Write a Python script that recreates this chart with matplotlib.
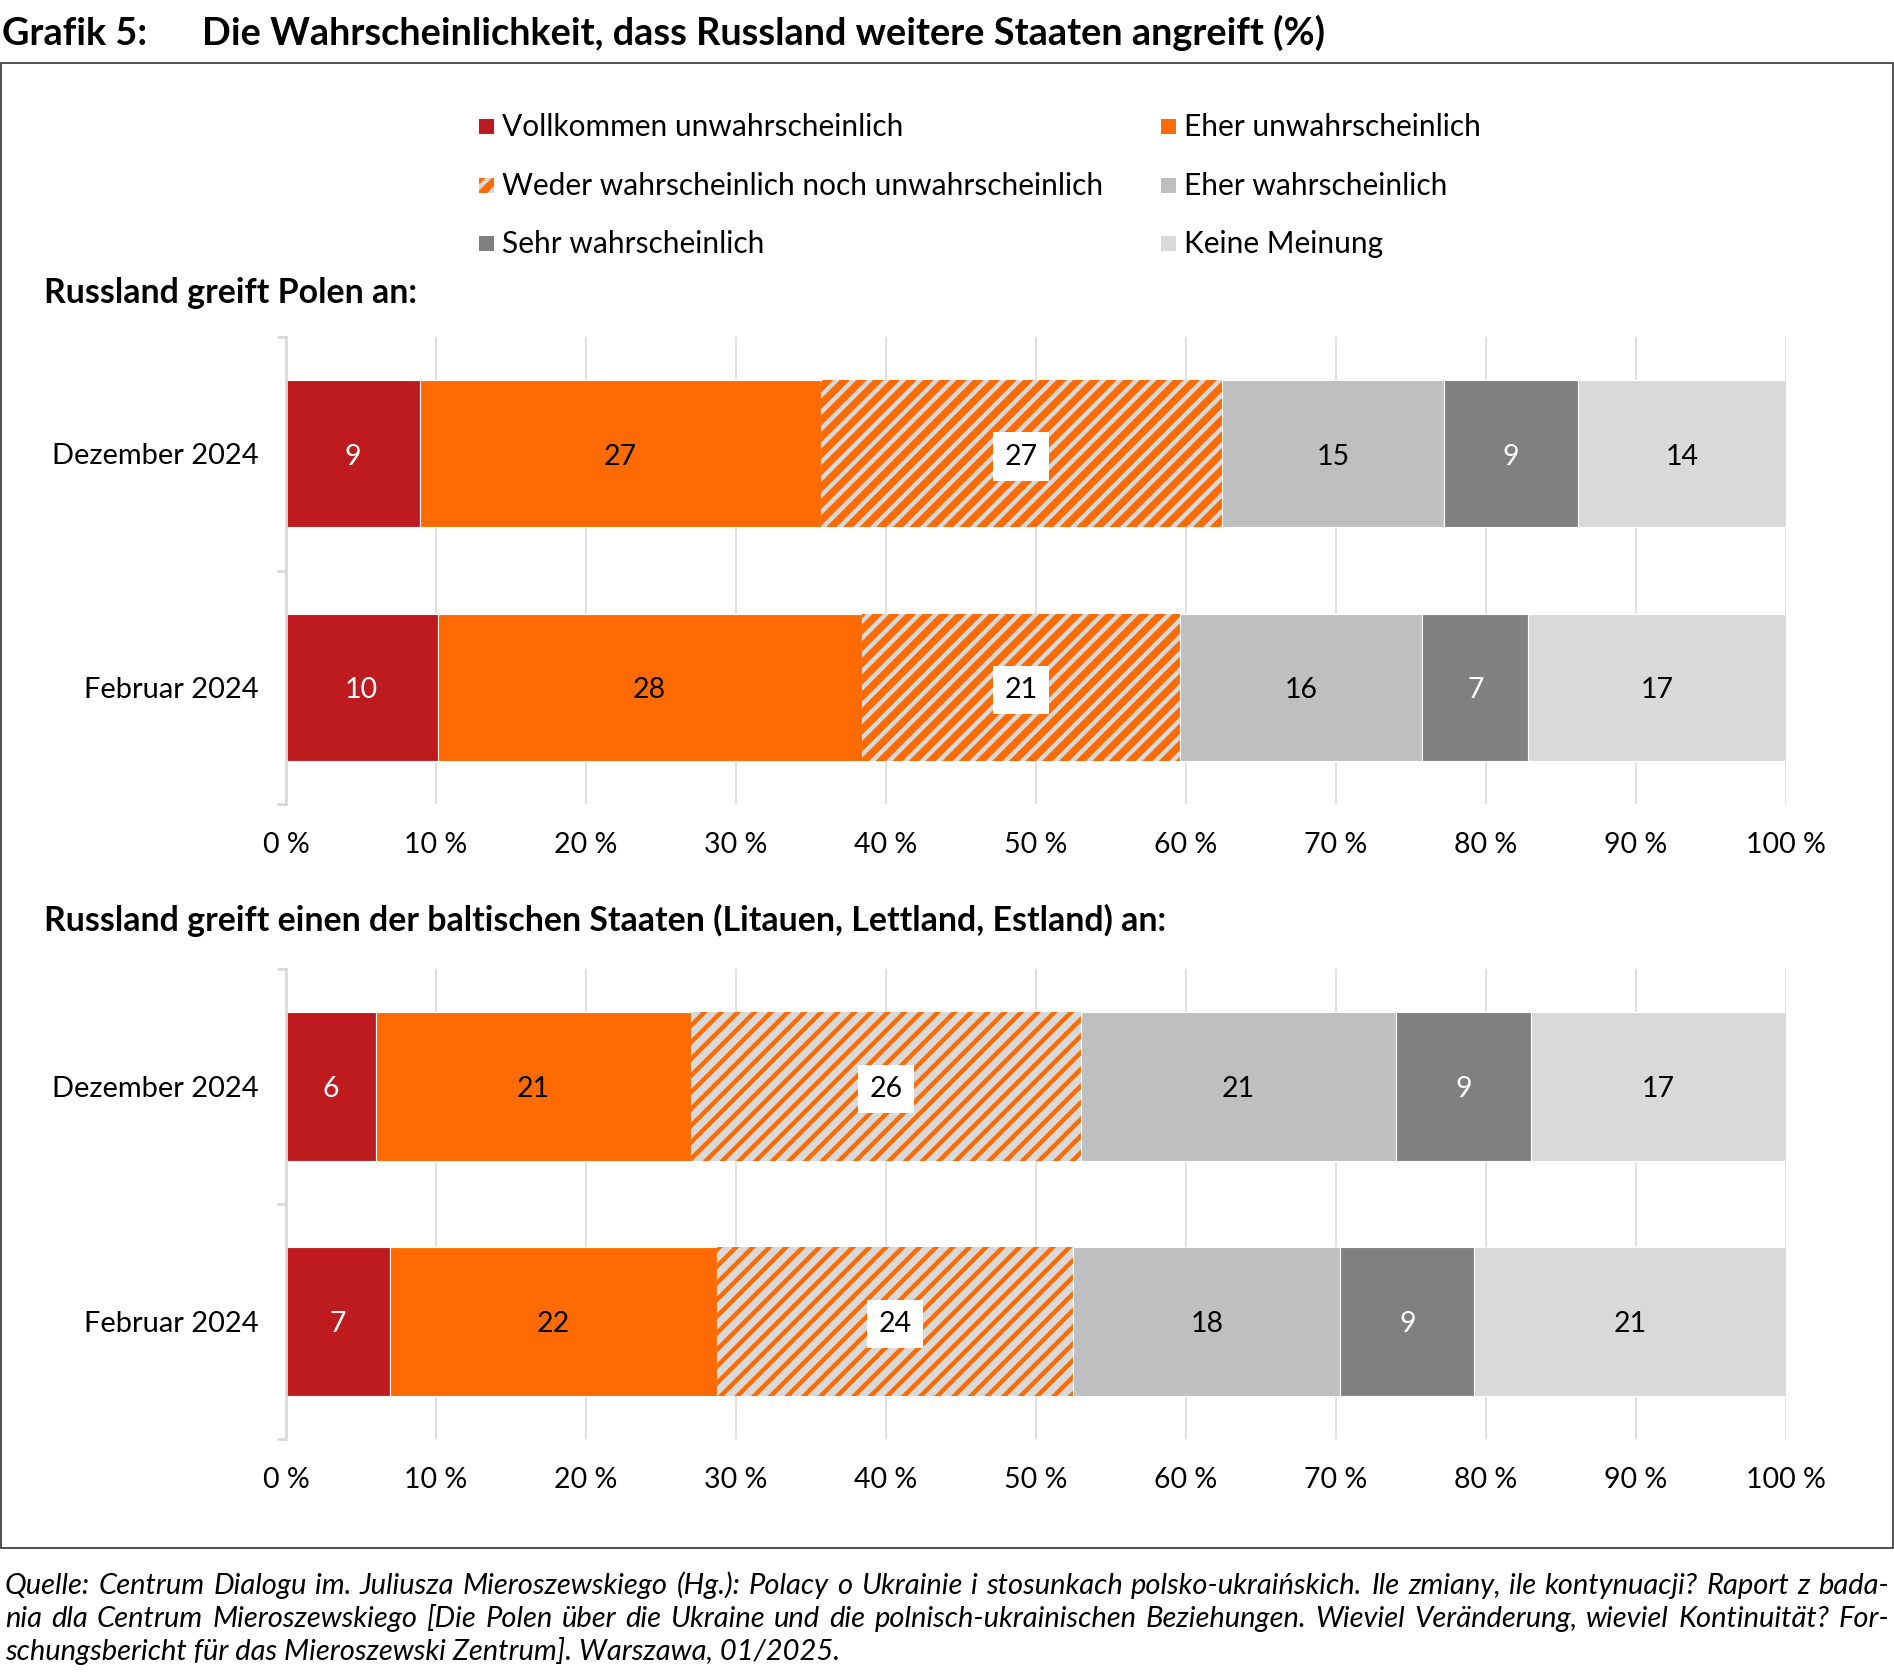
import matplotlib
matplotlib.use("Agg")
import matplotlib.pyplot as plt
from matplotlib.patches import Rectangle

plt.rcParams['font.family'] = ['Lato', 'DejaVu Sans']
plt.rcParams['hatch.linewidth'] = 3.2

W, H = 1894, 1677
DPI = 100

# ---------------- data ----------------
title_num = "Grafik 5:"
title_text = "Die Wahrscheinlichkeit, dass Russland weitere Staaten angreift (%)"
categories = ["Vollkommen unwahrscheinlich", "Eher unwahrscheinlich",
              "Weder wahrscheinlich noch unwahrscheinlich", "Eher wahrscheinlich",
              "Sehr wahrscheinlich", "Keine Meinung"]
periods = ["Dezember 2024", "Februar 2024"]
panel_titles = ["Russland greift Polen an:",
                "Russland greift einen der baltischen Staaten (Litauen, Lettland, Estland) an:"]
poland_dez = [9, 27, 27, 15, 9, 14]
poland_feb = [10, 28, 21, 16, 7, 17]
baltic_dez = [6, 21, 26, 21, 9, 17]
baltic_feb = [7, 22, 24, 18, 9, 21]
xtick_values = [0, 10, 20, 30, 40, 50, 60, 70, 80, 90, 100]
xtick_labels = ["0 %", "10 %", "20 %", "30 %", "40 %", "50 %", "60 %", "70 %", "80 %", "90 %", "100 %"]
footer_lines = [
    "Quelle: Centrum Dialogu im. Juliusza Mieroszewskiego (Hg.): Polacy o Ukrainie i stosunkach polsko-ukraińskich. Ile zmiany, ile kontynuacji? Raport z bada-",
    "nia dla Centrum Mieroszewskiego [Die Polen über die Ukraine und die polnisch-ukrainischen Beziehungen. Wieviel Veränderung, wieviel Kontinuität? For-",
    "schungsbericht für das Mieroszewski Zentrum]. Warszawa, 01/2025.",
]

# ---------------- style ----------------
RED = '#BE1B1F'
ORANGE = '#FF6B00'
G1 = '#BFBFBF'
G2 = '#808080'
G3 = '#D9D9D9'
colors = [RED, ORANGE, ORANGE, G1, G2, G3]
label_colors = ['white', 'black', 'black', 'black', 'white', 'black']
GRID = '#D9D9D9'

fig = plt.figure(figsize=(W / DPI, H / DPI), dpi=DPI)
fig.patch.set_facecolor('white')


def px(x):
    return x / W


def py(y):
    return 1 - y / H


def panel(rect, rows, hatch_face, hatch_stripe):
    ax = fig.add_axes(rect)
    ax.set_xlim(0, 100)
    ax.set_ylim(1.5, -0.5)
    for i, row in enumerate(rows):
        tot = sum(row)
        left = 0.0
        for j, v in enumerate(row):
            w = v / tot * 100
            if j == 2:
                ax.barh(i, w, left=left, height=0.63, color=hatch_face,
                        edgecolor=hatch_stripe, hatch='//', linewidth=0, zorder=2)
                ax.text(left + w / 2, i + 0.012, str(v), ha='center', va='center',
                        fontsize=20.5, color='black', zorder=4,
                        bbox=dict(facecolor='white', edgecolor='none', pad=8))
            else:
                ax.barh(i, w, left=left, height=0.63, color=colors[j],
                        edgecolor='white', linewidth=0.8, zorder=2)
                ax.text(left + w / 2, i + 0.012, str(v), ha='center', va='center',
                        fontsize=20.5, color=label_colors[j], zorder=4)
            left += w
    for s in ['top', 'right', 'bottom']:
        ax.spines[s].set_visible(False)
    ax.spines['left'].set_color(GRID)
    ax.spines['left'].set_linewidth(2)
    ax.set_yticks([-0.5, 0.5, 1.5])
    ax.set_yticklabels([])
    ax.set_yticks([0, 1], minor=True)
    ax.set_yticklabels(periods, minor=True, fontsize=20.9)
    ax.tick_params(axis='y', which='major', length=6.5, width=2, color=GRID)
    ax.tick_params(axis='y', which='minor', length=0, pad=20)
    ax.set_xticks(xtick_values)
    ax.set_xticklabels(xtick_labels, fontsize=20.5)
    ax.tick_params(axis='x', length=0, pad=20)
    ax.xaxis.grid(True, color=GRID, linewidth=1.1, zorder=0)
    ax.set_axisbelow(True)
    return ax


ax1 = panel([px(286), py(804), px(1786) - px(286), py(337) - py(804)],
            [poland_dez, poland_feb], ORANGE, G3)
ax2 = panel([px(286), py(1439), px(1786) - px(286), py(969) - py(1439)],
            [baltic_dez, baltic_feb], G3, ORANGE)

# panel titles
fig.text(px(44), py(303), panel_titles[0], fontsize=24.4, fontweight='bold', va='baseline')
fig.text(px(44), py(931), panel_titles[1], fontsize=24.4, fontweight='bold', va='baseline')

# title
fig.text(px(2), py(45), title_num, fontsize=27.3, fontweight='bold', va='baseline')
fig.text(px(202), py(45), title_text, fontsize=27.3, fontweight='bold', va='baseline')

# legend (manual)
leg_rows = [126, 185, 243]
leg_cols = [(479, 502), (1161, 1184)]
ms = 15
for k, cat in enumerate(categories):
    col = k % 2
    row = k // 2
    mx, tx = leg_cols[col]
    cy = leg_rows[row]
    if k == 2:
        r = Rectangle((px(mx), py(cy + ms / 2)), ms / W, ms / H, transform=fig.transFigure,
                      facecolor=ORANGE, edgecolor=G3, hatch='//', linewidth=0)
    else:
        r = Rectangle((px(mx), py(cy + ms / 2)), ms / W, ms / H, transform=fig.transFigure,
                      facecolor=colors[k], edgecolor='none', linewidth=0)
    fig.add_artist(r)
    fig.text(px(tx), py(cy + 10), cat, fontsize=21.5, va='baseline')

# border box
fig.add_artist(Rectangle((px(0.5), py(1548)), (W - 2) / W, (1548 - 63) / H,
                         transform=fig.transFigure, fill=False,
                         edgecolor='#333333', linewidth=1.2))

# footer, justified
renderer = fig.canvas.get_renderer()
foot_y = [1594, 1627, 1660]
FOOT_FS = 21
for li, line in enumerate(footer_lines):
    if li < len(footer_lines) - 1:
        words = line.split(' ')
        ts = [fig.text(0, py(foot_y[li]), w_, fontsize=FOOT_FS, style='italic', va='baseline')
              for w_ in words]
        widths = [t.get_window_extent(renderer).width for t in ts]
        x0, x1 = 5, 1889
        gap = (x1 - x0 - sum(widths)) / (len(words) - 1)
        x = x0
        for t, wd in zip(ts, widths):
            t.set_x(px(x))
            x += wd + gap
    else:
        fig.text(px(5), py(foot_y[li]), line, fontsize=FOOT_FS, style='italic', va='baseline')

fig.savefig('out.png', dpi=DPI, facecolor='white')
